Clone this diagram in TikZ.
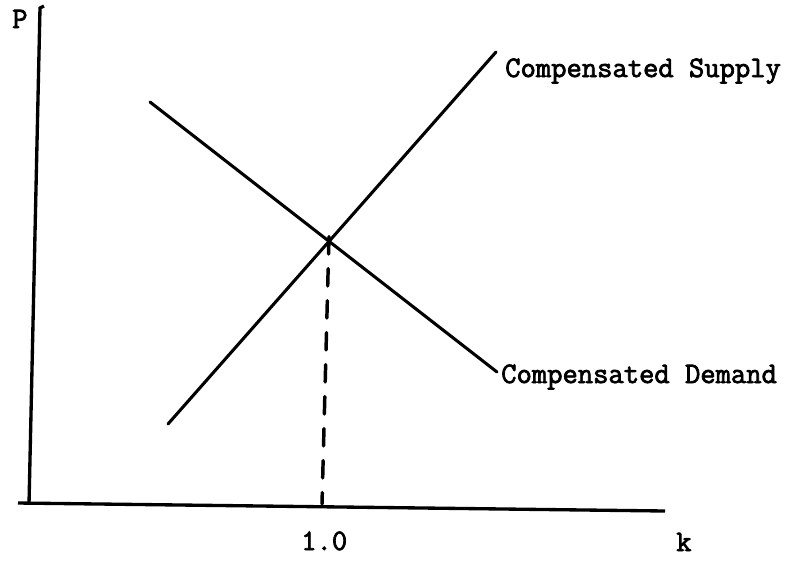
\documentclass[tikz,border=0pt]{standalone}
\usepackage{fontspec}
\newfontfamily\typew{Latin Modern Mono}[BoldFont={Latin Modern Mono},BoldFeatures={FakeBold=2.5}]
\begin{document}
\begin{tikzpicture}[x=0.75pt,y=-0.75pt,
  curve/.style={line width=2.3pt,line cap=round},
  axis/.style={line width=2.5pt},
  lbl/.style={font=\typew\bfseries\fontsize{22.3}{25}\selectfont,inner sep=0pt,anchor=base west}]
\useasboundingbox (0,0) rectangle (798,561);
% axes
\coordinate (ytop) at (40,8);
\coordinate (hook) at (44,6);
\coordinate (orig) at (29,504);
\coordinate (xl) at (18,503);
\coordinate (xr) at (665,511);
\draw[axis] (hook) -- (ytop) -- (orig);
\draw[axis] (xl) -- (xr);
% curves
\coordinate (s0) at (168,424);
\coordinate (s1) at (496,52);
\coordinate (d0) at (150,102);
\coordinate (d1) at (497,372);
\coordinate (eq) at (329,242);
\coordinate (foot) at (322,504);
\draw[curve] (s0) -- (s1);
\draw[curve] (d0) -- (d1);
\draw[line width=2.6pt,line cap=round,dash pattern=on 13pt off 11pt] ([yshift=4pt]eq) -- (foot);
% labels
\node[lbl] (P) at (12,28) {P};
\node[lbl] (k) at (676,551) {k};
\node[lbl] (one) at (301,550) {1.0};
\node[lbl] (sup) at (505,77) {Compensated Supply};
\node[lbl] (dem) at (501,383) {Compensated Demand};
\end{tikzpicture}
\end{document}
